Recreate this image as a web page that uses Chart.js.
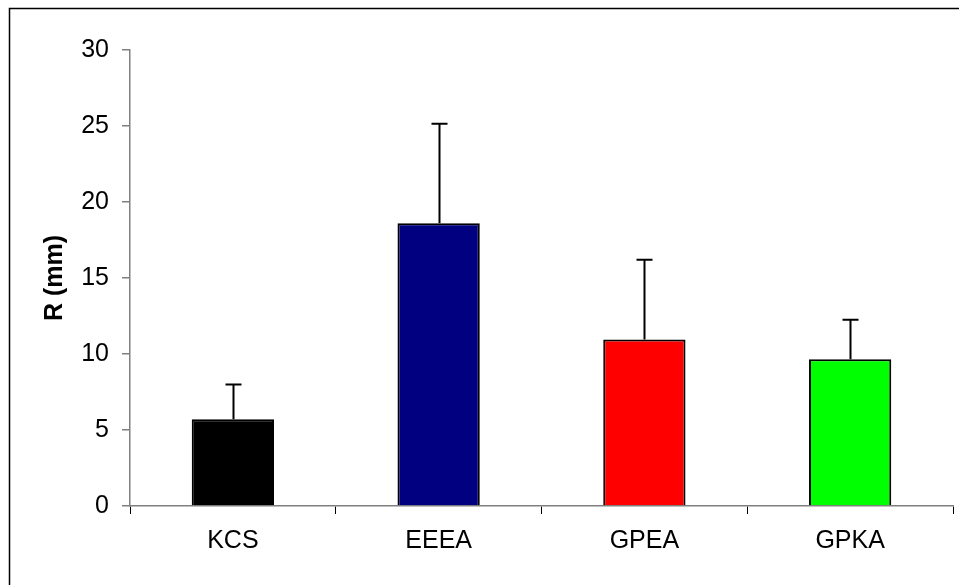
<!DOCTYPE html>
<html>
<head>
<meta charset="utf-8">
<script src="https://cdn.jsdelivr.net/npm/chart.js@4/dist/chart.umd.min.js"></script>
<style>
  html, body { margin: 0; padding: 0; background: #fff; }
  #wrap { width: 959px; height: 585px; position: relative; }
</style>
</head>
<body>
<div id="wrap"><canvas id="c" width="959" height="585"></canvas></div>
<script>
const categories = ["KCS", "EEEA", "GPEA", "GPKA"];
const means = [5.7, 18.6, 10.95, 9.65];
const upperErrors = [8.0, 25.15, 16.2, 12.25];
const barColors = ["#000000", "#000080", "#ff0000", "#00ff00"];
const yTicks = [0, 5, 10, 15, 20, 25, 30];

const FONT = "'Liberation Sans', Arial, sans-serif";

const framePlugin = {
  id: 'frame',
  beforeDraw(chart) {
    const ctx = chart.ctx;
    ctx.save();
    ctx.fillStyle = '#ffffff';
    ctx.fillRect(0, 0, chart.width, chart.height);
    ctx.strokeStyle = '#000000';
    ctx.lineWidth = 1.5;
    ctx.beginPath();
    ctx.moveTo(9.5, 600);
    ctx.lineTo(9.5, 8.5);
    ctx.lineTo(970, 8.5);
    ctx.stroke();
    ctx.restore();
  }
};

const errorBarPlugin = {
  id: 'errorBars',
  afterDatasetsDraw(chart) {
    const ctx = chart.ctx;
    const meta = chart.getDatasetMeta(0);
    const y = chart.scales.y;
    ctx.save();
    ctx.strokeStyle = '#000000';
    ctx.lineWidth = 2;
    meta.data.forEach((bar, i) => {
      const x = Math.round(bar.x) + 0.5;
      const yTop = y.getPixelForValue(upperErrors[i]);
      const yBase = y.getPixelForValue(means[i]);
      ctx.beginPath();
      ctx.moveTo(x, yBase);
      ctx.lineTo(x, yTop);
      ctx.moveTo(x - 8, yTop);
      ctx.lineTo(x + 8, yTop);
      ctx.stroke();
    });
    ctx.restore();
  }
};

new Chart(document.getElementById('c'), {
  type: 'bar',
  data: {
    labels: categories,
    datasets: [{
      data: means,
      backgroundColor: barColors,
      borderColor: '#000000',
      borderWidth: 2,
      borderSkipped: 'bottom',
      barPercentage: 0.4,
      categoryPercentage: 1.0
    }]
  },
  options: {
    responsive: false,
    animation: false,
    devicePixelRatio: 1,
    layout: { padding: { top: 50, right: 6, bottom: 0, left: 0 } },
    plugins: {
      legend: { display: false },
      tooltip: { enabled: false }
    },
    scales: {
      x: {
        offset: true,
        afterFit: (s) => { s.height = 79; },
        grid: {
          offset: true,
          drawOnChartArea: false,
          drawTicks: true,
          tickLength: 8,
          color: '#000000',
          lineWidth: 1
        },
        border: { display: true, color: '#808080', width: 1.5 },
        ticks: {
          color: '#000000',
          padding: 12,
          font: { family: FONT, size: 25 }
        }
      },
      y: {
        min: 0,
        max: 30,
        afterFit: (s) => { s.width = 130; },
        afterBuildTicks: (s) => { s.ticks = yTicks.map(v => ({ value: v })); },
        grid: {
          drawOnChartArea: false,
          drawTicks: true,
          tickLength: 8,
          color: '#808080',
          lineWidth: 1.5
        },
        border: { display: true, color: '#808080', width: 1.5 },
        ticks: {
          color: '#000000',
          padding: 13,
          font: { family: FONT, size: 25 }
        },
        title: {
          display: true,
          text: 'R (mm)',
          color: '#000000',
          padding: { top: 40, bottom: 0 },
          font: { family: FONT, size: 25, weight: 'bold' }
        }
      }
    }
  },
  plugins: [framePlugin, errorBarPlugin]
});
</script>
</body>
</html>
